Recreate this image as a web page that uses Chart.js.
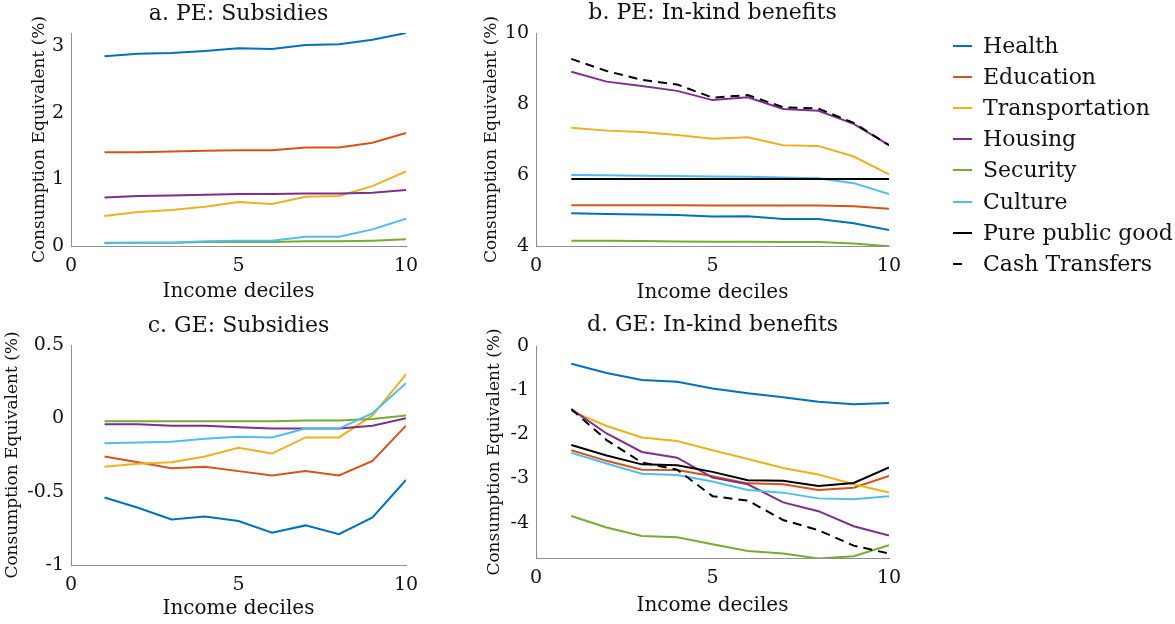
<!DOCTYPE html>
<html>
<head>
<meta charset="utf-8">
<script src="https://cdn.jsdelivr.net/npm/chart.js@4.4.1/dist/chart.umd.min.js"></script>
<style>
  html, body { margin: 0; padding: 0; background: #ffffff; }
  body { width: 1175px; height: 624px; position: relative; overflow: hidden; font-family: "DejaVu Serif", serif; }
  canvas { position: absolute; }
  #legend { position: absolute; left: 0; top: 0; }
  .lg-row { position: absolute; left: 953px; height: 30px; white-space: nowrap; }
  .lg-line { position: absolute; left: 0; top: 14px; height: 2px; width: 19px; }
  .lg-text { position: absolute; left: 30px; top: 0; font-size: 22px; line-height: 30px; color: #111; }
</style>
</head>
<body>
<canvas id="cA"></canvas>
<canvas id="cB"></canvas>
<canvas id="cC"></canvas>
<canvas id="cD"></canvas>
<div id="legend"></div>
<script>
// ---------- DATA ----------
const deciles = [1, 2, 3, 4, 5, 6, 7, 8, 9, 10];
const seriesNames = ["Health", "Education", "Transportation", "Housing", "Security", "Culture", "Pure public good", "Cash Transfers"];
const panelTitles = ["a. PE: Subsidies", "b. PE: In-kind benefits", "c. GE: Subsidies", "d. GE: In-kind benefits"];
const xAxisTitle = "Income deciles";
const yAxisTitle = "Consumption Equivalent (%)";
const xTicks = [0, 5, 10];

// a. PE: Subsidies
const peSubHealth = [2.85, 2.89, 2.90, 2.93, 2.97, 2.96, 3.02, 3.03, 3.10, 3.20];
const peSubEducation = [1.41, 1.41, 1.42, 1.43, 1.44, 1.44, 1.48, 1.48, 1.55, 1.70];
const peSubTransportation = [0.45, 0.51, 0.54, 0.59, 0.66, 0.63, 0.74, 0.75, 0.90, 1.12];
const peSubHousing = [0.73, 0.75, 0.76, 0.77, 0.78, 0.78, 0.79, 0.79, 0.80, 0.84];
const peSubSecurity = [0.05, 0.05, 0.05, 0.06, 0.06, 0.06, 0.07, 0.07, 0.08, 0.10];
const peSubCulture = [0.04, 0.05, 0.05, 0.07, 0.08, 0.08, 0.14, 0.14, 0.25, 0.41];
const peSubYTicks = [0, 1, 2, 3];

// b. PE: In-kind benefits
const peInkHealth = [4.92, 4.90, 4.89, 4.87, 4.83, 4.84, 4.76, 4.76, 4.64, 4.45];
const peInkEducation = [5.15, 5.15, 5.15, 5.15, 5.14, 5.14, 5.14, 5.14, 5.12, 5.05];
const peInkTransportation = [7.33, 7.25, 7.21, 7.13, 7.02, 7.06, 6.84, 6.82, 6.52, 6.02];
const peInkHousing = [8.91, 8.63, 8.51, 8.37, 8.11, 8.19, 7.86, 7.81, 7.44, 6.84];
const peInkSecurity = [4.15, 4.15, 4.14, 4.13, 4.12, 4.12, 4.11, 4.11, 4.07, 3.99];
const peInkCulture = [6.00, 5.99, 5.98, 5.97, 5.96, 5.95, 5.93, 5.91, 5.77, 5.46];
const peInkPure = [5.89, 5.89, 5.89, 5.89, 5.89, 5.89, 5.89, 5.89, 5.89, 5.89];
const peInkCash = [9.27, 8.93, 8.68, 8.55, 8.18, 8.25, 7.91, 7.87, 7.47, 6.84];
const peInkYTicks = [4, 6, 8, 10];

// c. GE: Subsidies
const geSubHealth = [-0.54, -0.61, -0.69, -0.67, -0.70, -0.78, -0.73, -0.79, -0.675, -0.42];
const geSubEducation = [-0.26, -0.30, -0.34, -0.33, -0.36, -0.39, -0.36, -0.39, -0.29, -0.05];
const geSubTransportation = [-0.33, -0.31, -0.30, -0.26, -0.20, -0.24, -0.13, -0.13, 0.02, 0.30];
const geSubHousing = [-0.04, -0.04, -0.05, -0.05, -0.06, -0.07, -0.07, -0.07, -0.05, 0.00];
const geSubSecurity = [-0.02, -0.02, -0.02, -0.02, -0.02, -0.02, -0.015, -0.015, -0.005, 0.02];
const geSubCulture = [-0.17, -0.165, -0.16, -0.14, -0.125, -0.13, -0.07, -0.07, 0.035, 0.24];
const geSubYTicks = [-1, -0.5, 0, 0.5];

// d. GE: In-kind benefits
const geInkHealth = [-0.40, -0.61, -0.77, -0.81, -0.96, -1.07, -1.16, -1.26, -1.32, -1.29];
const geInkEducation = [-2.36, -2.60, -2.80, -2.81, -2.95, -3.11, -3.13, -3.26, -3.21, -2.94];
const geInkTransportation = [-1.47, -1.81, -2.07, -2.15, -2.36, -2.56, -2.76, -2.91, -3.13, -3.32];
const geInkHousing = [-1.43, -1.98, -2.40, -2.53, -2.98, -3.13, -3.54, -3.74, -4.08, -4.29];
const geInkSecurity = [-3.85, -4.11, -4.30, -4.33, -4.49, -4.64, -4.70, -4.81, -4.76, -4.51];
const geInkCulture = [-2.42, -2.66, -2.89, -2.92, -3.07, -3.26, -3.32, -3.45, -3.47, -3.40];
const geInkPure = [-2.24, -2.48, -2.68, -2.70, -2.85, -3.04, -3.05, -3.17, -3.10, -2.75];
const geInkCash = [-1.43, -2.13, -2.64, -2.80, -3.40, -3.50, -3.94, -4.17, -4.52, -4.70];
const geInkYTicks = [-4, -3, -2, -1, 0];

// ---------- STYLE ----------
const colors = ["#0072BD", "#D95319", "#EDB120", "#7E2F8E", "#77AC30", "#4DBEEE", "#000000", "#000000"];
const dashes = [[], [], [], [], [], [], [], [9, 6]];
const FONT = "'DejaVu Serif', serif";

function buildDatasets(seriesList) {
  const n = seriesList.length;
  return seriesList.map((vals, i) => ({
    label: seriesNames[i],
    data: deciles.map((d, k) => ({ x: d, y: vals[k] })),
    borderColor: colors[i],
    backgroundColor: colors[i],
    borderWidth: 2,
    borderDash: dashes[i],
    pointRadius: 0,
    tension: 0,
    fill: false,
    order: n - i
  }));
}

function makePanel(id, geo, seriesList, yMin, yMax, yTicks) {
  const cv = document.getElementById(id);
  cv.width = geo.w; cv.height = geo.h;
  cv.style.left = geo.left + "px"; cv.style.top = geo.top + "px";
  cv.style.width = geo.w + "px"; cv.style.height = geo.h + "px";
  const chartLeft = geo.area.l - geo.left;
  const chartRight = geo.w - (geo.area.r - geo.left);
  const xBoxH = geo.top + geo.h - geo.area.b;
  const titleLH = 22 * 1.2;
  return new Chart(cv, {
    type: "line",
    data: { datasets: buildDatasets(seriesList) },
    options: {
      responsive: false,
      animation: false,
      devicePixelRatio: 1,
      layout: { padding: { left: 0, right: chartRight, top: 0, bottom: 0 } },
      plugins: {
        legend: { display: false },
        tooltip: { enabled: false },
        title: {
          display: true,
          fullSize: false,
          text: geo.title,
          color: "#111",
          font: { family: FONT, size: 22, weight: "normal", lineHeight: 1.2 },
          padding: { top: geo.titlePadTop, bottom: geo.area.t - geo.top - titleLH - geo.titlePadTop }
        }
      },
      scales: {
        x: {
          type: "linear",
          min: 0, max: 10,
          afterBuildTicks: s => { s.ticks = xTicks.map(v => ({ value: v })); },
          afterFit: s => { s.height = xBoxH; },
          grid: { display: false, drawTicks: false },
          border: { display: true, color: "#8f8f8f", width: 1 },
          ticks: { color: "#111", padding: geo.xTickPad, font: { family: FONT, size: 19 }, maxRotation: 0, autoSkip: false, callback: v => String(v) },
          title: { display: true, text: xAxisTitle, color: "#111", font: { family: FONT, size: 20, lineHeight: 1.2 }, padding: { top: 0, bottom: geo.xTitlePad } }
        },
        y: {
          type: "linear",
          min: yMin, max: yMax,
          afterBuildTicks: s => { s.ticks = yTicks.map(v => ({ value: v })); },
          afterFit: s => { s.width = chartLeft; },
          grid: { display: false, drawTicks: false },
          border: { display: true, color: "#8f8f8f", width: 1 },
          ticks: { color: "#111", padding: 7, font: { family: FONT, size: 19 }, autoSkip: false, callback: v => String(v) },
          title: { display: true, text: yAxisTitle, color: "#111", font: { family: FONT, size: 17, lineHeight: 1.2 }, padding: { top: geo.yTitlePad, bottom: 0 } }
        }
      }
    }
  });
}

makePanel("cA", { left: 0, top: 0, w: 477, h: 310, area: { l: 71, r: 406, t: 33, b: 246 }, title: panelTitles[0], titlePadTop: 1.3, xTickPad: 9, xTitlePad: 6, yTitlePad: 29 },
  [peSubHealth, peSubEducation, peSubTransportation, peSubHousing, peSubSecurity, peSubCulture], 0, 3.2, peSubYTicks);
makePanel("cB", { left: 470, top: 0, w: 485, h: 310, area: { l: 536, r: 889, t: 33, b: 246 }, title: panelTitles[1], titlePadTop: 0, xTickPad: 9, xTitlePad: 5.5, yTitlePad: 11 },
  [peInkHealth, peInkEducation, peInkTransportation, peInkHousing, peInkSecurity, peInkCulture, peInkPure, peInkCash], 4, 10, peInkYTicks);
makePanel("cC", { left: 0, top: 310, w: 477, h: 314, area: { l: 71, r: 406, t: 345, b: 565 }, title: panelTitles[2], titlePadTop: 2.8, xTickPad: 9, xTitlePad: 3, yTitlePad: 2 },
  [geSubHealth, geSubEducation, geSubTransportation, geSubHousing, geSubSecurity, geSubCulture], -1, 0.5, geSubYTicks);
makePanel("cD", { left: 470, top: 310, w: 485, h: 314, area: { l: 536, r: 889, t: 346, b: 558 }, title: panelTitles[3], titlePadTop: 1.8, xTickPad: 9, xTitlePad: 6, yTitlePad: 14.5 },
  [geInkHealth, geInkEducation, geInkTransportation, geInkHousing, geInkSecurity, geInkCulture, geInkPure, geInkCash], -4.8, 0, geInkYTicks);

// ---------- LEGEND ----------
const legend = document.getElementById("legend");
const legendTop = 31;
const legendStep = 31.1;
seriesNames.forEach((name, i) => {
  const row = document.createElement("div");
  row.className = "lg-row";
  row.style.top = (legendTop + i * legendStep) + "px";
  const ln = document.createElement("div");
  ln.className = "lg-line";
  ln.style.background = colors[i];
  if (dashes[i].length) ln.style.width = "9px";
  const tx = document.createElement("div");
  tx.className = "lg-text";
  tx.textContent = name;
  row.appendChild(ln); row.appendChild(tx);
  legend.appendChild(row);
});
</script>
</body>
</html>
